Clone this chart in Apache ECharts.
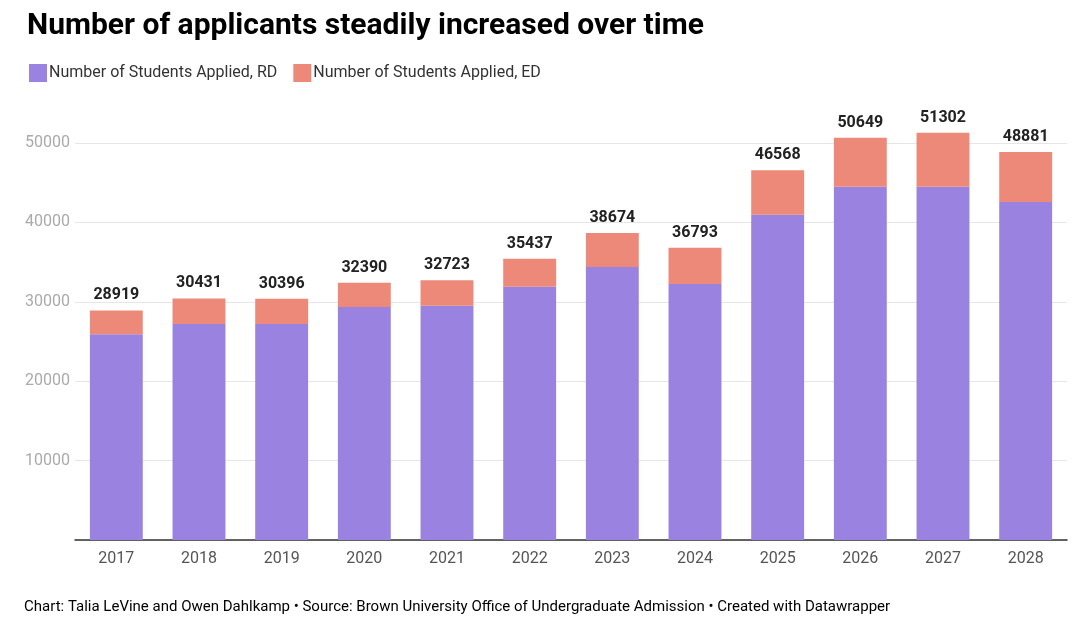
<!DOCTYPE html>
<html>
<head>
<meta charset="utf-8">
<script src="https://cdn.jsdelivr.net/npm/echarts@6/dist/echarts.min.js"></script>
<style>
html,body{margin:0;padding:0;background:#fff;}
#chart{width:1080px;height:633px;}
</style>
</head>
<body>
<div id="chart"></div>
<script>
const categories = ['2017','2018','2019','2020','2021','2022','2023','2024','2025','2026','2027','2028'];
const rdValues = [25900, 27200, 27200, 29330, 29500, 31900, 34370, 32230, 40970, 44500, 44500, 42570];
const edValues = [3019, 3231, 3196, 3060, 3223, 3537, 4304, 4563, 5598, 6149, 6802, 6311];
const totals = [28919, 30431, 30396, 32390, 32723, 35437, 38674, 36793, 46568, 50649, 51302, 48881];
const seriesNames = ['Number of Students Applied, RD', 'Number of Students Applied, ED'];
const yTicks = [0, 10000, 20000, 30000, 40000, 50000];

const chart = echarts.init(document.getElementById('chart'), null, {renderer:'canvas'});
const font = 'Roboto, "Noto Sans", sans-serif';
chart.setOption({
  animation:false,
  backgroundColor:'#ffffff',
  textStyle:{fontFamily:font},
  title:{
    text:'Number of applicants steadily increased over time',
    left:22, top:6,
    textStyle:{fontSize:30, fontWeight:'bold', color:'#000', fontFamily:font}
  },
  legend:{
    left:24, top:59,
    icon:'rect', itemWidth:18, itemHeight:18, itemGap:16,
    textStyle:{fontSize:16, color:'#333', fontFamily:font, padding:[0,0,0,-3]},
    data:seriesNames
  },
  grid:{left:75, right:13, top:143, bottom:93, containLabel:false},
  xAxis:{
    type:'category', data:categories,
    axisLine:{lineStyle:{color:'#333', width:1.5}},
    axisTick:{show:false},
    axisLabel:{fontSize:16, color:'#555', margin:11, fontFamily:font}
  },
  yAxis:{
    type:'value', min:0, max:50000, interval:10000,
    axisLine:{show:false}, axisTick:{show:false},
    splitLine:{lineStyle:{color:'#e6e6e6', width:1}},
    axisLabel:{fontSize:16, color:'#aaa', margin:5, fontFamily:font,
      formatter:function(v){return yTicks.indexOf(v)>0 ? String(v) : '';}}
  },
  series:[
    {name:seriesNames[0], type:'bar', stack:'a', data:rdValues, barWidth:'64%', clip:false,
     itemStyle:{color:'#9a82e0'}},
    {name:seriesNames[1], type:'bar', stack:'a', data:edValues, barWidth:'64%', clip:false,
     itemStyle:{color:'#ec8979'},
     label:{show:true, position:'top', distance:7, fontSize:16, fontWeight:'bold', color:'#222', fontFamily:font,
       formatter:function(p){return String(totals[p.dataIndex]);}}}
  ],
  graphic:[{
    type:'text', left:24, top:600,
    style:{
      text:'{a|Chart: Talia LeVine and Owen Dahlkamp • Source: Brown University Office of Undergraduate Admission • Created with }{b|Datawrapper}',
      rich:{
        a:{fontSize:15, color:'#888', fontFamily:font},
        b:{fontSize:15, color:'#1d81a2', fontFamily:font}
      }
    }
  }]
});
</script>
</body>
</html>
